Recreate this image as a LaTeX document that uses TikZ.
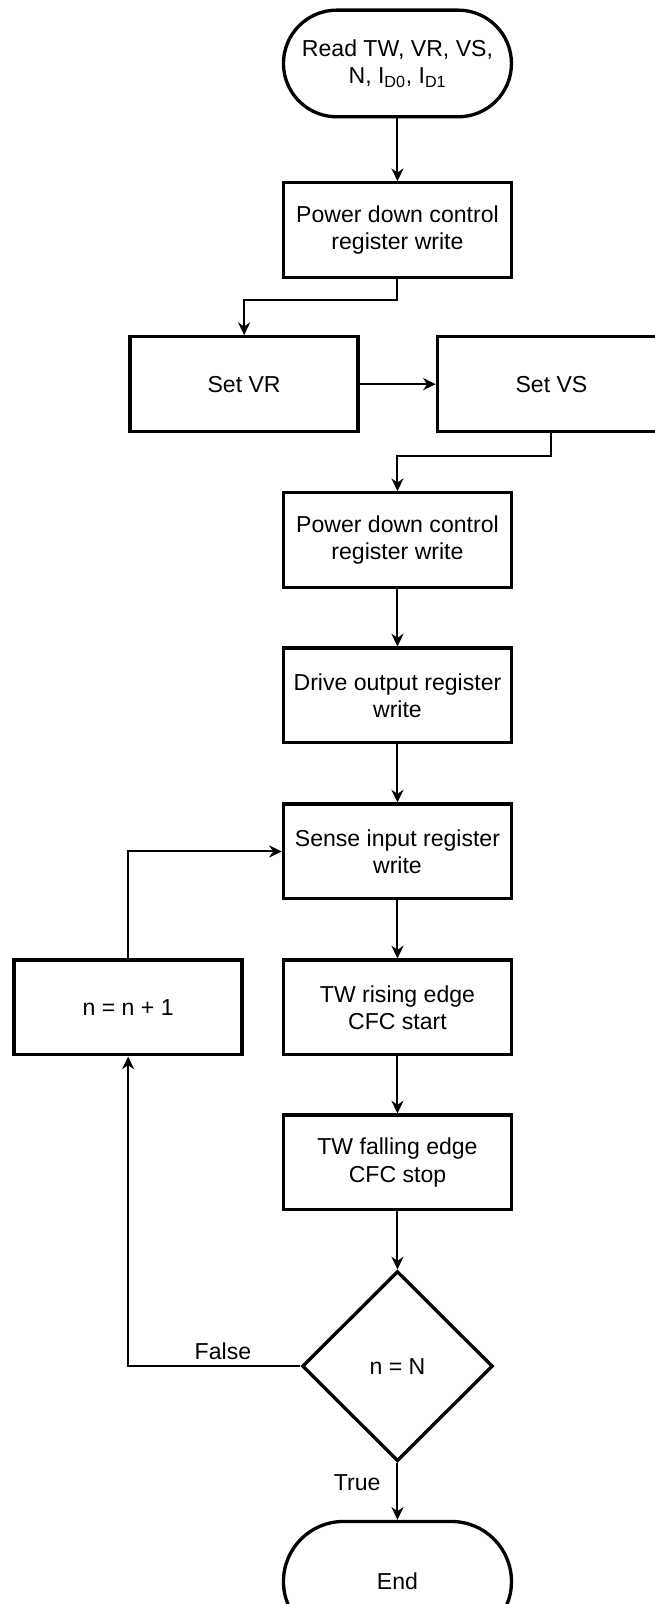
\documentclass[tikz,border=0pt]{standalone}
\usepackage{fontspec}
\setmainfont{Liberation Sans}
\usetikzlibrary{arrows.meta, positioning, shapes.geometric}

\begin{document}
\begin{tikzpicture}[
        font=\fontsize{17.3pt}{20.5pt}\selectfont,
        node distance=43pt,
        >={Stealth[length=9.5pt, width=9pt, inset=3pt]},
        proc/.style={draw, line width=2.5pt, align=center, minimum width=171pt, minimum height=71pt, inner sep=3pt},
        term/.style={draw, line width=2.5pt, align=center, rounded corners=40pt, minimum width=171pt, minimum height=80pt},
        test/.style={draw, line width=2.5pt, diamond, minimum width=143pt, minimum height=142.5pt, inner sep=0pt},
        flow/.style={->, line width=1.5pt},
        lbl/.style={inner sep=2pt}
    ]
        \useasboundingbox (0,0) rectangle (490.5pt,-1203pt);
        % --- Start and setup ---
        \node[term] (start) at (298.1pt,-47.6pt) {Read TW, VR, VS,\\ N, I\textsubscript{D0}, I\textsubscript{D1}};
        \node[proc, below=47pt of start] (pd1) {Power down control\\ register write};
        % --- Voltages, side by side ---
        \node[proc, below=42pt of pd1, xshift=-115pt] (setvr) {Set VR};
        \node[proc, right=57pt of setvr] (setvs) {Set VS};
        % --- Register writes ---
        \node[proc, below=159pt of pd1] (pd2) {Power down control\\ register write};
        \node[proc, below=of pd2] (drive) {Drive output register\\ write};
        \node[proc, below=43.5pt of drive] (sense) {Sense input register\\ write};
        % --- Measurement ---
        \node[proc, below=43.5pt of sense] (rise) {TW rising edge\\ CFC start};
        \node[proc, below=42.75pt of rise] (fall) {TW falling edge\\ CFC stop};
        \node[proc, left=28.5pt of rise] (incr) {n = n + 1};
        % --- Loop test and end ---
        \node[test, below=43.5pt of fall] (decide) {n = N};
        \node[term, below=42.75pt of decide, minimum height=90pt, rounded corners=45pt] (stop) {End};

        % --- Connectors ---
        \draw[flow] (start) -- (pd1);
        \draw[flow] (pd1.south) -- ++(0,-16pt) -| (setvr.north);
        \draw[flow] (setvr) -- (setvs);
        \draw[flow] (setvs.south) -- ++(0,-17pt) -| (pd2.north);
        \draw[flow] (pd2) -- (drive);
        \draw[flow] (drive) -- (sense);
        \draw[flow] (sense) -- (rise);
        \draw[flow] (rise) -- (fall);
        \draw[flow] (fall) -- (decide);
        \draw[flow] (decide.west) -| node[lbl, above, pos=0.225, yshift=2pt] {False} (incr.south);
        \draw[flow] (incr.north) |- (sense.west);
        \draw[flow] (decide.south) -- node[lbl, left, pos=0.35, xshift=-10pt] {True} (stop.north);
    \end{tikzpicture}
\end{document}
